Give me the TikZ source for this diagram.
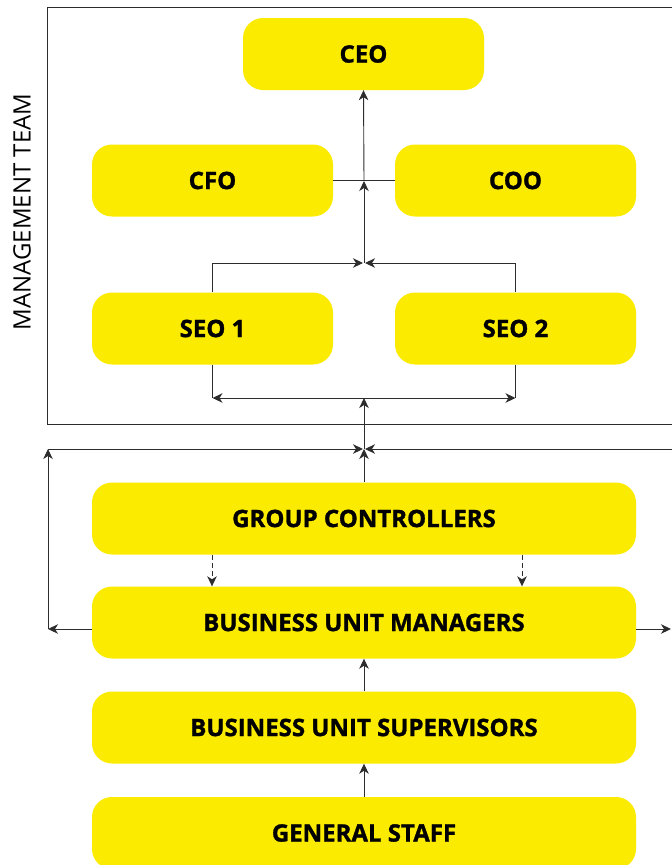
\documentclass[tikz,border=0pt]{standalone}
\usepackage{fontspec}
\setmainfont{Open Sans}[BoldFeatures={FakeBold=1.2}]
\usetikzlibrary{arrows.meta}
\definecolor{boxyellow}{RGB}{250,235,0}
\definecolor{linegray}{RGB}{45,45,45}
\tikzset{
  box/.style={rectangle, rounded corners=20pt, fill=boxyellow, draw=none,
    font=\fontsize{24}{27}\selectfont\bfseries, text=black, inner sep=0pt},
  small/.style={box, minimum width=241pt, minimum height=72pt},
  wide/.style={box, minimum width=544pt, minimum height=72pt},
  conn/.style={draw=linegray, line width=0.9pt},
  arr/.style={conn, -{Stealth[length=10pt,width=9.5pt,inset=3pt]}},
}
\begin{document}
\begin{tikzpicture}[x=1pt,y=-1pt]
\useasboundingbox (0,0) rectangle (672,865);
\clip (0,0) rectangle (672,865);
% management frame
\draw[conn] (47.5,7.5) rectangle (720,424);
\node[rotate=90, font=\fontsize{24}{27}\selectfont, text=black] (mt) at (22,212) {MANAGEMENT TEAM};
% boxes
\node[small] (ceo) at (363.5,54) {CEO};
\node[small] (cfo) at (212.5,180.5) {CFO};
\node[small] (coo) at (515.5,180.5) {COO};
\node[small] (seo1) at (212.5,328.5) {SEO 1};
\node[small] (seo2) at (515.5,328.5) {SEO 2};
\node[wide] (gc) at (364,518.5) {GROUP CONTROLLERS};
\node[wide] (bum) at (364,622.5) {BUSINESS UNIT MANAGERS};
\node[wide] (bus) at (364,727.5) {BUSINESS UNIT SUPERVISORS};
\node[wide] (gs) at (364,833) {GENERAL STAFF};
% junctions
\coordinate (j1) at (364,263);
\coordinate (jm) at (364,181);
\coordinate (j2) at (364,398);
\coordinate (j3) at (364,449);
\coordinate (l1) at (48,629);
\coordinate (l2) at (48,449);
\coordinate (r1) at (671,629);
\coordinate (r2) at (720,449);
\coordinate (d1) at (212,0);
\coordinate (d2) at (522,0);
% top part
\draw[conn] (cfo.east) -- (coo.west);
\draw[arr] (jm) -- (ceo.south);
\draw[arr] (j1) -- (jm);
\draw[arr] (seo1.north) |- ([xshift=-1pt]j1);
\draw[arr] (seo2.north) |- ([xshift=1pt]j1);
\draw[conn] (seo1.south) -- (seo1.south |- j2);
\draw[conn] (seo2.south) -- (seo2.south |- j2);
\draw[arr] (j2) -- (seo1.south |- j2);
\draw[arr] (j2) -- (seo2.south |- j2);
\draw[arr] (j3) -- (j2);
% lower part
\draw[arr] (gc.north) -- (j3);
\draw[arr] ([yshift=-6.5pt]bum.west) -- (l1);
\draw[arr] (l1) -- (l2);
\draw[arr] (l2) -- ([xshift=-1pt]j3);
\draw[arr] ([yshift=-6.5pt]bum.east) -- (r1);
\draw[arr] (r2) -- ([xshift=1pt]j3);
\draw[arr, dash pattern=on 5pt off 3pt] (gc.south -| d1) -- (bum.north -| d1);
\draw[arr, dash pattern=on 5pt off 3pt] (gc.south -| d2) -- (bum.north -| d2);
\draw[arr] (bus.north) -- (bum.south);
\draw[arr] (gs.north) -- (bus.south);
\end{tikzpicture}
\end{document}
